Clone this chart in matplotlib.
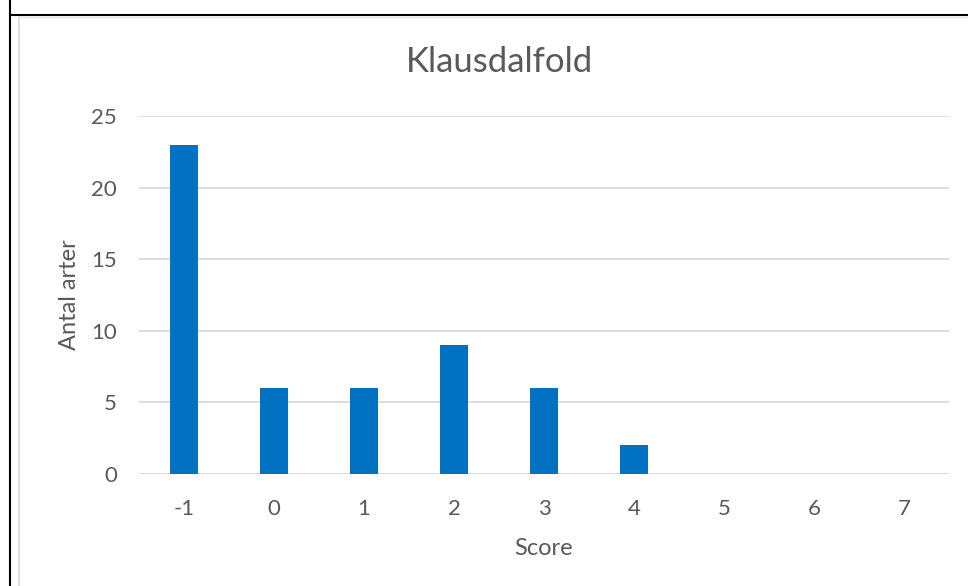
import matplotlib
matplotlib.use('Agg')
import matplotlib.pyplot as plt
from matplotlib.lines import Line2D

plt.rcParams['font.family'] = ['Lato', 'DejaVu Sans']

# data
scores = ['-1', '0', '1', '2', '3', '4', '5', '6', '7']
antal = [23, 6, 6, 9, 6, 2, 0, 0, 0]

W, H = 968, 586
fig = plt.figure(figsize=(W / 100, H / 100), dpi=100)

# plot area in pixels (left, top, right, bottom)
l, t, r, b = 139, 116, 949, 474
ax = fig.add_axes([l / W, 1 - b / H, (r - l) / W, (b - t) / H])

txt = '#595959'
x = range(len(scores))
ax.bar(x, antal, width=0.31, color='#0070C0', zorder=3)
ax.set_xlim(-0.5, len(scores) - 0.5)
ax.set_ylim(0, 25)
ax.set_yticks([0, 5, 10, 15, 20, 25])
ax.set_xticks(list(x))
ax.set_xticklabels(scores)
ax.grid(axis='y', color='#D9D9D9', linewidth=1.3, zorder=0)
for s in ax.spines.values():
    s.set_visible(False)
ax.tick_params(length=0, labelsize=16, colors=txt)
ax.tick_params(axis='x', pad=18)
ax.tick_params(axis='y', pad=16)

fig.text(500 / W, 1 - 62 / H, 'Klausdalfold', fontsize=25, color=txt,
         ha='center', va='center')
ax.set_xlabel('Score', fontsize=17, color=txt, labelpad=14)
ax.set_ylabel('Antal arter', fontsize=17, color=txt, va='center')
ax.yaxis.set_label_coords((70 - l) / (r - l), 0.5)

# surrounding borders (table cell + chart frame)
fig.add_artist(Line2D([10 / W, 10 / W], [0, 1], color='black', linewidth=1.5,
                      transform=fig.transFigure))
fig.add_artist(Line2D([10 / W, 1], [1 - 15 / H, 1 - 15 / H], color='black',
                      linewidth=1.5, transform=fig.transFigure))
fig.add_artist(Line2D([19 / W, 19 / W], [0, 1 - 17 / H], color='#D9D9D9',
                      linewidth=1.2, transform=fig.transFigure))
fig.add_artist(Line2D([19 / W, 1], [1 - 17 / H, 1 - 17 / H], color='#E6E6E6',
                      linewidth=1.0, transform=fig.transFigure))

fig.savefig('out.png', dpi=100)
